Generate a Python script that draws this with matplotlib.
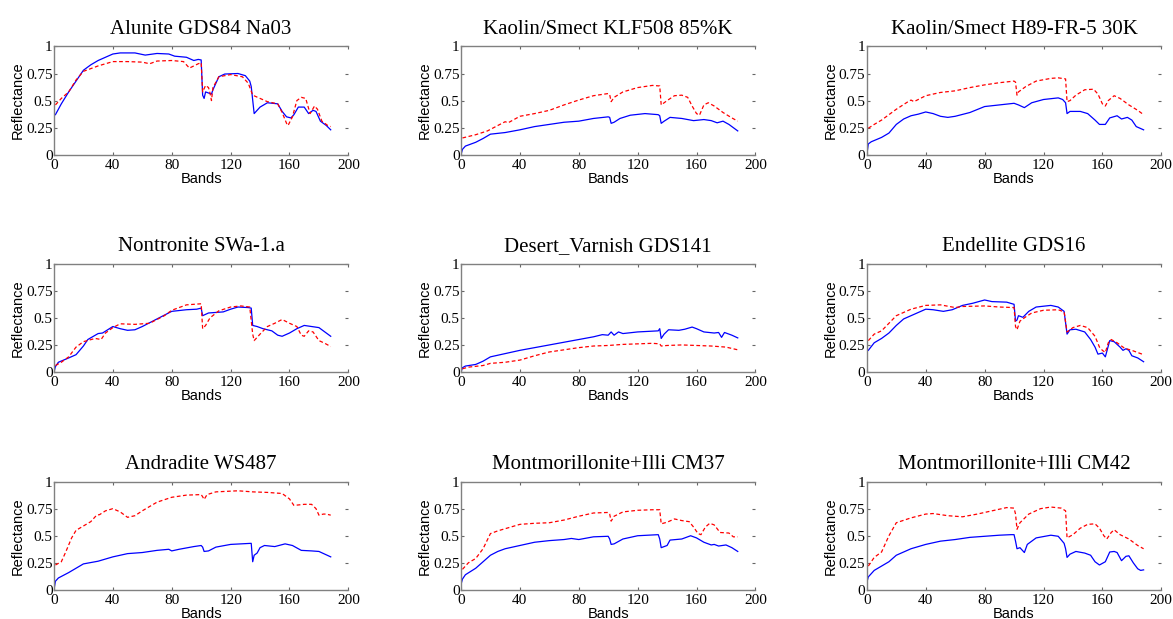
import numpy as np
import matplotlib
matplotlib.use("Agg")
import matplotlib.pyplot as plt

# titulos dos paineis
titles = ["Alunite GDS84 Na03", "Kaolin/Smect KLF508 85%K", "Kaolin/Smect H89-FR-5 30K",
          "Nontronite SWa-1.a", "Desert_Varnish GDS141", "Endellite GDS16",
          "Andradite WS487", "Montmorillonite+Illi CM37", "Montmorillonite+Illi CM42"]

# (banda, reflectancia) - azul = estimado, vermelho = biblioteca
alunite_blue = [(1, 0.37), (5, 0.47), (10, 0.58), (15, 0.68), (20, 0.78), (25, 0.83), (30, 0.87), (35, 0.9), (40, 0.93), (45, 0.94),
                (55, 0.94), (62, 0.92), (70, 0.935), (78, 0.93), (82, 0.91), (90, 0.9), (95, 0.87), (98, 0.88), (100, 0.875),
                (101, 0.55), (102, 0.52), (103, 0.58), (105, 0.57), (107, 0.56), (108, 0.6), (112, 0.72), (116, 0.745),
                (125, 0.75), (130, 0.73), (133, 0.68), (134, 0.63), (136, 0.38), (140, 0.44), (145, 0.48), (152, 0.47),
                (155, 0.4), (158, 0.35), (161, 0.34), (163, 0.37), (166, 0.44), (170, 0.44), (173, 0.38), (176, 0.41),
                (178, 0.4), (181, 0.31), (185, 0.27), (188, 0.23)]
alunite_red = [(1, 0.46), (5, 0.52), (10, 0.58), (15, 0.69), (20, 0.77), (30, 0.82), (40, 0.86), (50, 0.86), (60, 0.855),
               (65, 0.84), (70, 0.865), (80, 0.87), (88, 0.86), (92, 0.8), (95, 0.82), (98, 0.84), (100, 0.85), (101, 0.58),
               (103, 0.64), (105, 0.62), (106, 0.57), (107, 0.5), (108, 0.62), (112, 0.72), (120, 0.74), (128, 0.72),
               (132, 0.66), (135, 0.55), (140, 0.52), (145, 0.49), (152, 0.47), (155, 0.39), (158, 0.29), (159, 0.27),
               (162, 0.35), (165, 0.5), (168, 0.53), (171, 0.52), (174, 0.38), (177, 0.45), (179, 0.42), (182, 0.31),
               (186, 0.27), (188, 0.26)]

klf508_blue = [(0, 0.0), (1, 0.05), (3, 0.08), (10, 0.115), (15, 0.15), (20, 0.19), (30, 0.205), (40, 0.23), (50, 0.26),
               (60, 0.28), (70, 0.3), (80, 0.31), (90, 0.335), (100, 0.35), (101, 0.345), (102, 0.29), (104, 0.3),
               (108, 0.335), (115, 0.365), (125, 0.38), (134, 0.37), (135, 0.36), (136, 0.29), (138, 0.31), (142, 0.345),
               (150, 0.335), (158, 0.315), (165, 0.325), (170, 0.315), (174, 0.295), (178, 0.31), (182, 0.28), (188, 0.22)]
klf508_red = [(1, 0.155), (10, 0.185), (18, 0.22), (25, 0.27), (30, 0.305), (32, 0.295), (40, 0.355), (50, 0.38), (60, 0.41),
              (70, 0.46), (80, 0.505), (90, 0.545), (100, 0.565), (101, 0.555), (102, 0.49), (104, 0.53), (110, 0.58),
              (120, 0.62), (130, 0.64), (135, 0.635), (136, 0.46), (140, 0.5), (145, 0.545), (150, 0.55), (154, 0.53),
              (157, 0.45), (160, 0.38), (162, 0.365), (165, 0.46), (168, 0.48), (172, 0.45), (178, 0.39), (184, 0.34),
              (188, 0.31)]

h89_blue = [(0, 0.0), (1, 0.1), (3, 0.12), (10, 0.16), (15, 0.2), (20, 0.28), (25, 0.33), (30, 0.36), (35, 0.375), (40, 0.395),
            (45, 0.38), (50, 0.355), (55, 0.345), (60, 0.355), (70, 0.39), (80, 0.445), (90, 0.46), (100, 0.475),
            (103, 0.46), (107, 0.435), (112, 0.48), (120, 0.51), (130, 0.525), (133, 0.51), (135, 0.48), (136, 0.38),
            (138, 0.4), (145, 0.4), (150, 0.38), (155, 0.32), (158, 0.28), (162, 0.28), (165, 0.34), (170, 0.36),
            (173, 0.33), (177, 0.345), (180, 0.32), (183, 0.26), (188, 0.23)]
h89_red = [(1, 0.245), (5, 0.28), (10, 0.32), (20, 0.42), (28, 0.49), (30, 0.505), (32, 0.49), (40, 0.545), (50, 0.575),
           (60, 0.59), (70, 0.62), (80, 0.645), (90, 0.665), (100, 0.68), (101, 0.67), (102, 0.55), (103, 0.58),
           (108, 0.63), (115, 0.68), (125, 0.705), (130, 0.71), (135, 0.7), (136, 0.49), (138, 0.5), (142, 0.55),
           (148, 0.6), (154, 0.605), (157, 0.56), (160, 0.47), (162, 0.45), (164, 0.5), (168, 0.545), (172, 0.52),
           (178, 0.46), (184, 0.41), (188, 0.37)]

nontronite_blue = [(0, 0.0), (1, 0.05), (3, 0.09), (10, 0.13), (15, 0.16), (20, 0.24), (23, 0.3), (30, 0.355), (33, 0.36),
                   (40, 0.42), (45, 0.4), (50, 0.385), (55, 0.39), (60, 0.42), (70, 0.49), (80, 0.56), (90, 0.575),
                   (97, 0.58), (100, 0.59), (101, 0.52), (105, 0.545), (115, 0.555), (120, 0.58), (125, 0.6), (132, 0.595),
                   (134, 0.59), (135, 0.43), (138, 0.42), (142, 0.4), (148, 0.38), (152, 0.34), (155, 0.33), (160, 0.36),
                   (165, 0.4), (170, 0.43), (175, 0.42), (180, 0.41), (185, 0.36), (188, 0.33)]
nontronite_red = [(1, 0.06), (5, 0.09), (10, 0.14), (15, 0.23), (20, 0.28), (28, 0.31), (32, 0.3), (35, 0.36), (40, 0.41),
                  (45, 0.445), (55, 0.44), (65, 0.45), (75, 0.52), (80, 0.57), (90, 0.62), (100, 0.63), (101, 0.4),
                  (103, 0.43), (106, 0.5), (112, 0.565), (120, 0.6), (127, 0.61), (133, 0.6), (135, 0.35), (136, 0.29),
                  (140, 0.35), (145, 0.42), (150, 0.45), (155, 0.485), (160, 0.45), (165, 0.42), (168, 0.34), (170, 0.33),
                  (173, 0.38), (176, 0.37), (180, 0.29), (184, 0.265), (188, 0.235)]

varnish_blue = [(0, 0.0), (1, 0.04), (3, 0.055), (10, 0.07), (15, 0.1), (20, 0.14), (30, 0.17), (40, 0.2), (50, 0.225),
                (60, 0.25), (70, 0.275), (80, 0.3), (90, 0.325), (96, 0.345), (100, 0.34), (102, 0.37), (104, 0.34),
                (107, 0.37), (110, 0.355), (120, 0.37), (134, 0.38), (135, 0.4), (136, 0.31), (138, 0.35), (141, 0.39),
                (148, 0.385), (152, 0.395), (157, 0.415), (160, 0.4), (165, 0.37), (172, 0.36), (175, 0.365), (177, 0.32),
                (179, 0.365), (184, 0.34), (188, 0.315)]
varnish_red = [(1, 0.03), (5, 0.045), (15, 0.06), (20, 0.08), (30, 0.09), (40, 0.11), (50, 0.15), (60, 0.185), (70, 0.205),
               (80, 0.225), (90, 0.24), (100, 0.245), (110, 0.255), (120, 0.26), (130, 0.265), (135, 0.26), (136, 0.24),
               (140, 0.245), (150, 0.25), (160, 0.245), (170, 0.24), (180, 0.23), (188, 0.205)]

endellite_blue = [(1, 0.2), (5, 0.27), (10, 0.31), (15, 0.36), (20, 0.43), (25, 0.49), (30, 0.52), (35, 0.55), (40, 0.58),
                  (45, 0.575), (52, 0.56), (58, 0.575), (65, 0.615), (72, 0.635), (80, 0.665), (85, 0.65), (95, 0.645),
                  (100, 0.625), (101, 0.47), (102, 0.48), (103, 0.52), (106, 0.505), (110, 0.56), (115, 0.6), (125, 0.615),
                  (130, 0.6), (134, 0.56), (136, 0.35), (138, 0.39), (142, 0.395), (148, 0.37), (152, 0.3), (155, 0.23),
                  (157, 0.165), (160, 0.175), (162, 0.14), (165, 0.29), (168, 0.28), (172, 0.23), (174, 0.2), (176, 0.215),
                  (178, 0.2), (180, 0.15), (184, 0.13), (188, 0.095)]
endellite_red = [(1, 0.29), (5, 0.35), (10, 0.38), (15, 0.45), (20, 0.52), (30, 0.58), (40, 0.615), (50, 0.62), (60, 0.595),
                 (65, 0.605), (80, 0.61), (90, 0.6), (100, 0.595), (101, 0.42), (102, 0.39), (104, 0.47), (108, 0.51),
                 (112, 0.545), (120, 0.57), (130, 0.575), (134, 0.555), (136, 0.37), (140, 0.41), (145, 0.43), (150, 0.41),
                 (155, 0.33), (158, 0.23), (160, 0.2), (162, 0.18), (164, 0.27), (166, 0.3), (170, 0.27), (175, 0.22),
                 (180, 0.2), (184, 0.18), (188, 0.16)]

andradite_blue = [(0, 0.0), (1, 0.08), (3, 0.11), (10, 0.16), (15, 0.2), (20, 0.24), (30, 0.265), (40, 0.305), (50, 0.335),
                  (60, 0.345), (70, 0.365), (78, 0.375), (80, 0.36), (85, 0.375), (95, 0.4), (100, 0.41), (101, 0.395),
                  (102, 0.355), (105, 0.36), (110, 0.395), (120, 0.42), (134, 0.43), (135, 0.26), (136, 0.32), (138, 0.34),
                  (140, 0.39), (143, 0.41), (150, 0.4), (157, 0.425), (162, 0.41), (168, 0.365), (175, 0.36), (180, 0.355),
                  (188, 0.305)]
andradite_red = [(1, 0.23), (5, 0.26), (8, 0.35), (12, 0.48), (15, 0.55), (20, 0.59), (25, 0.63), (29, 0.69), (31, 0.695),
                 (35, 0.73), (40, 0.75), (45, 0.72), (50, 0.67), (55, 0.685), (60, 0.73), (70, 0.81), (80, 0.855), (90, 0.875),
                 (100, 0.88), (101, 0.86), (102, 0.835), (104, 0.88), (110, 0.905), (125, 0.915), (135, 0.905), (145, 0.9),
                 (155, 0.89), (160, 0.84), (163, 0.78), (170, 0.79), (175, 0.79), (178, 0.75), (180, 0.69), (183, 0.7),
                 (185, 0.7), (188, 0.69)]

cm37_blue = [(0, 0.05), (1, 0.1), (3, 0.14), (10, 0.2), (15, 0.26), (20, 0.32), (25, 0.355), (30, 0.38), (40, 0.41), (50, 0.44),
             (60, 0.455), (70, 0.465), (75, 0.475), (80, 0.465), (90, 0.49), (100, 0.495), (101, 0.47), (102, 0.42),
             (104, 0.425), (110, 0.47), (120, 0.5), (134, 0.51), (135, 0.47), (136, 0.39), (140, 0.41), (142, 0.46),
             (150, 0.47), (156, 0.5), (160, 0.48), (165, 0.44), (170, 0.415), (172, 0.42), (175, 0.405), (180, 0.415),
             (184, 0.39), (188, 0.355)]
cm37_red = [(1, 0.19), (5, 0.25), (10, 0.29), (15, 0.38), (20, 0.52), (25, 0.545), (30, 0.565), (40, 0.605), (50, 0.615),
            (60, 0.62), (70, 0.645), (80, 0.68), (90, 0.71), (100, 0.715), (101, 0.7), (102, 0.635), (104, 0.68), (110, 0.72),
            (120, 0.735), (130, 0.74), (135, 0.74), (136, 0.61), (140, 0.625), (145, 0.655), (150, 0.64), (155, 0.63),
            (158, 0.58), (161, 0.52), (163, 0.51), (166, 0.58), (169, 0.615), (172, 0.6), (176, 0.53), (182, 0.525),
            (185, 0.49), (188, 0.49)]

cm42_blue = [(0, 0.07), (1, 0.12), (5, 0.18), (10, 0.22), (15, 0.26), (20, 0.32), (30, 0.38), (40, 0.42), (50, 0.45), (60, 0.465),
             (70, 0.485), (80, 0.495), (90, 0.505), (98, 0.51), (100, 0.51), (101, 0.45), (102, 0.38), (104, 0.39),
             (106, 0.36), (107, 0.345), (109, 0.42), (115, 0.48), (125, 0.505), (130, 0.495), (134, 0.43), (135, 0.38),
             (136, 0.3), (138, 0.33), (142, 0.355), (148, 0.34), (152, 0.32), (155, 0.26), (158, 0.23), (162, 0.26),
             (165, 0.35), (168, 0.355), (170, 0.345), (173, 0.27), (176, 0.31), (178, 0.315), (181, 0.25), (184, 0.195),
             (186, 0.18), (188, 0.185)]
cm42_red = [(1, 0.22), (5, 0.3), (10, 0.35), (15, 0.5), (20, 0.62), (30, 0.665), (40, 0.7), (45, 0.705), (55, 0.685),
            (65, 0.675), (75, 0.7), (85, 0.73), (95, 0.76), (100, 0.755), (101, 0.7), (102, 0.56), (104, 0.62), (110, 0.7),
            (118, 0.75), (125, 0.765), (132, 0.755), (135, 0.73), (136, 0.48), (140, 0.51), (145, 0.57), (150, 0.605),
            (155, 0.61), (158, 0.57), (161, 0.5), (163, 0.47), (166, 0.53), (168, 0.555), (172, 0.51), (178, 0.47),
            (184, 0.41), (188, 0.38)]

blues = [alunite_blue, klf508_blue, h89_blue, nontronite_blue, varnish_blue, endellite_blue,
         andradite_blue, cm37_blue, cm42_blue]
reds = [alunite_red, klf508_red, h89_red, nontronite_red, varnish_red, endellite_red,
        andradite_red, cm37_red, cm42_red]

xticks = [0, 40, 80, 120, 160, 200]
yticks = [0, 0.25, 0.5, 0.75, 1]
ytick_labels = ["0", "0.25", "0.5", "0.75", "1"]

fig = plt.figure(figsize=(11.73, 6.19), dpi=100)
lefts = [0.046, 0.393, 0.739]
bottoms = [0.750, 0.399, 0.047]
w, h = 0.251, 0.175

for i in range(9):
    ax = fig.add_axes([lefts[i % 3], bottoms[i // 3], w, h])
    b = np.array(blues[i])
    r = np.array(reds[i])
    ax.plot(b[:, 0], b[:, 1], color='#0000ff', lw=0.9)
    ax.plot(r[:, 0], r[:, 1], color='#ff0000', lw=0.9, ls=(0, (3, 2)))
    ax.set_xlim(0, 200)
    ax.set_ylim(0, 1)
    ax.set_xticks(xticks)
    ax.set_xticklabels([str(t) for t in xticks], family='Liberation Serif', fontsize=11)
    ax.set_yticks(yticks)
    ax.set_yticklabels(ytick_labels, family='Liberation Serif', fontsize=11)
    ax.tick_params(direction='in', top=True, right=True, length=2.5, color='#666666')
    ax.tick_params(axis='x', pad=3)
    ax.tick_params(axis='y', pad=1)
    ax.spines['right'].set_visible(False)
    for s in ['left', 'bottom', 'top']:
        ax.spines[s].set_color('#808080')
        ax.spines[s].set_linewidth(1.0)
    ax.set_title(titles[i], family='Liberation Serif', fontsize=15, pad=9)
    ax.set_xlabel('Bands', family='Liberation Sans', fontsize=10.5, labelpad=0)
    ax.set_ylabel('Reflectance', family='Liberation Sans', fontsize=10.5, labelpad=1)

plt.savefig('out.png', dpi=100)
